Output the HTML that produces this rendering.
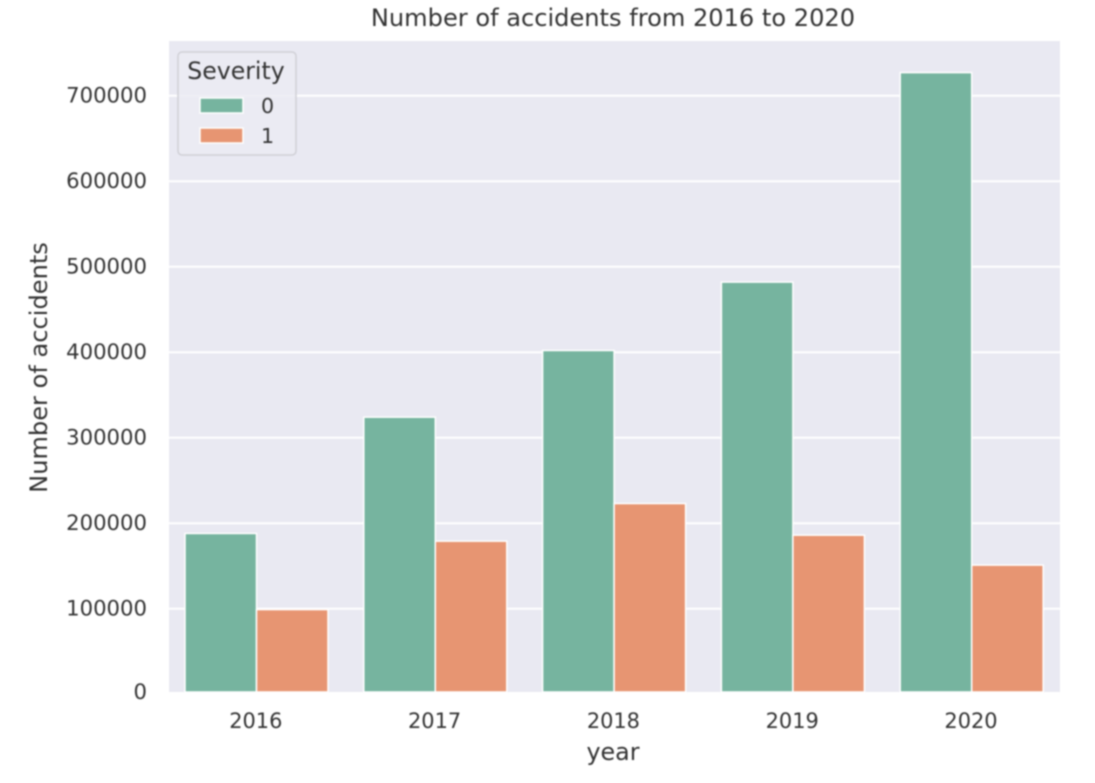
<!DOCTYPE html>
<html>
<head>
<meta charset="utf-8">
<style>
html,body{margin:0;padding:0;background:#fff;width:1095px;height:783px;overflow:hidden}
svg{display:block;filter:blur(0.7px)}
text{font-family:"DejaVu Sans","Liberation Sans",sans-serif;fill:#333}
</style>
</head>
<body>
<svg id="chart" xmlns="http://www.w3.org/2000/svg" width="1095" height="783" viewBox="0 0 1095 783"></svg>
<script>
const categories = ["2016", "2017", "2018", "2019", "2020"];
const severity0 = [188000, 324000, 402000, 482000, 727000];
const severity1 = [99000, 179000, 223000, 186000, 151000];
const yTicks = [0, 100000, 200000, 300000, 400000, 500000, 600000, 700000];
const seriesNames = ["0", "1"];

const svg = document.getElementById('chart');
const NS = 'http://www.w3.org/2000/svg';
const plotLeft = 169, plotRight = 1060, plotTop = 41, plotBottom = 692;
const zeroY = 694.2, pxPerUnit = 85.5 / 100000;
const step = 178.8, firstCenter = 256.5, barW = 71.5;
const colors = ['#76b49f', '#e79572'];

function yScale(v) { return Math.min(plotBottom, zeroY - v * pxPerUnit); }
function xCenter(i) { return firstCenter + i * step; }
function make(tag, attrs, text) {
  const el = document.createElementNS(NS, tag);
  for (const k in attrs) el.setAttribute(k, attrs[k]);
  if (text !== undefined) el.textContent = text;
  svg.appendChild(el);
  return el;
}

const bg = make('rect', {x: plotLeft, y: plotTop, width: plotRight - plotLeft, height: plotBottom - plotTop, fill: '#e9e9f2'});



yTicks.forEach(function (t) {
  const y = yScale(t);
  if (t > 0) {
    const g = make('line', {x1: plotLeft, x2: plotRight, y1: y, y2: y, stroke: '#fff', 'stroke-width': 2});
    
    
  }
  const l = make('text', {x: 147, y: y + 7, 'text-anchor': 'end', 'font-size': 21.2}, String(t));
  
  
});

function drawBars(values, seriesIndex) {
  values.forEach(function (v, i) {
    const x = xCenter(i) + (seriesIndex === 0 ? -barW : 0);
    const r = make('rect', {x: x, y: yScale(v), width: barW, height: plotBottom - yScale(v), fill: colors[seriesIndex], stroke: '#fff', 'stroke-width': 1.5});
    
    
  });
}
drawBars(severity0, 0);
drawBars(severity1, 1);

categories.forEach(function (c, i) {
  const l = make('text', {x: xCenter(i) - 0.7, y: 728, 'text-anchor': 'middle', 'font-size': 20.9}, c);
  
  
});

const title = make('text', {x: 613, y: 26, 'text-anchor': 'middle', 'font-size': 24.1}, 'Number of accidents from 2016 to 2020');



const xTitle = make('text', {x: 613, y: 760, 'text-anchor': 'middle', 'font-size': 23.8}, 'year');



const yTitle = make('text', {x: 0, y: 0, 'text-anchor': 'middle', 'font-size': 24.1, transform: 'translate(47 367.5) rotate(-90)'}, 'Number of accidents');



const legendBox = make('rect', {x: 178, y: 52, width: 118, height: 103, rx: 4, fill: '#ebebf3', 'fill-opacity': 0.85, stroke: '#d0d0d6', 'stroke-width': 1.5});



const legendTitle = make('text', {x: 236, y: 79, 'text-anchor': 'middle', 'font-size': 23.6}, 'Severity');



seriesNames.forEach(function (n, i) {
  const y = 98 + i * 30;
  const s = make('rect', {x: 200, y: y, width: 43, height: 15, fill: colors[i], stroke: '#fff', 'stroke-width': 1.5});
  
  
  const l = make('text', {x: 261, y: y + 15, 'font-size': 20.6}, n);
  
  
});
</script>
</body>
</html>
